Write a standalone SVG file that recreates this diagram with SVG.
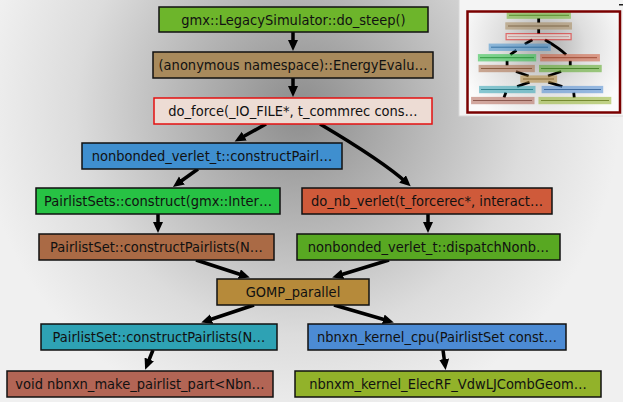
<svg xmlns="http://www.w3.org/2000/svg" width="623" height="402" viewBox="0 0 623 402">
<defs>
<radialGradient id="bg" gradientUnits="userSpaceOnUse" cx="300" cy="110" r="320">
<stop offset="0" stop-color="#8c8c8c"/>
<stop offset="0.35" stop-color="#b4b4b4"/>
<stop offset="0.7" stop-color="#dcdcdc"/>
<stop offset="1" stop-color="#f0f0f0"/>
</radialGradient>
<radialGradient id="mbg" gradientUnits="userSpaceOnUse" cx="543" cy="45" r="85">
<stop offset="0" stop-color="#a8a8a8"/>
<stop offset="0.5" stop-color="#dedede"/>
<stop offset="1" stop-color="#fbfbfb"/>
</radialGradient>
<marker id="ah" markerUnits="userSpaceOnUse" markerWidth="12" markerHeight="11" refX="6" refY="5" orient="auto">
<path d="M0,0 L11,5 L0,10 z" fill="#000"/>
</marker>
</defs>
<style>
.n rect{stroke:#111;stroke-width:1.5}
.n text{font-family:"DejaVu Sans Condensed","DejaVu Sans",sans-serif;font-stretch:condensed;font-size:14.5px;fill:#111;text-anchor:middle}
.e path{fill:none;stroke:#000;stroke-width:3.5;marker-end:url(#ah)}
.m rect{stroke-width:1.2;opacity:0.55}
.m line{stroke-width:1;opacity:0.7}
.me path{fill:none;stroke:#000;stroke-width:12}
</style>
<rect x="0" y="0" width="623" height="402" fill="url(#bg)"/>

<g id="connectors" class="e">
<path d="M293,32 L293,46"/>
<path d="M293,78 L293,92"/>
<path d="M266,124 L239,139"/>
<path d="M320,124 C347,140 385,163 407,183"/>
<path d="M198,169 L177,184"/>
<path d="M158,214 L158,228"/>
<path d="M428,214 L428,228"/>
<path d="M196,260 L245,276"/>
<path d="M389,260 L337,276"/>
<path d="M254,305 L206,321"/>
<path d="M334,305 L389,321"/>
<path d="M153,350 L147,365"/>
<path d="M443,350 L445,365"/>
</g>

<g id="n1" class="n"><rect x="159" y="7" width="269" height="25" fill="#6db52b"/><text x="293.5" y="24.5">gmx::LegacySimulator::do_steep()</text></g>
<g id="n2" class="n"><rect x="153" y="52" width="280" height="26" fill="#a88a5c"/><text x="293" y="70">(anonymous namespace)::EnergyEvalu…</text></g>
<g id="n3" class="n"><rect x="154" y="98" width="278" height="26" fill="#eddcd4" style="stroke:#e41010"/><text x="293" y="116">do_force(_IO_FILE*, t_commrec cons…</text></g>
<g id="n4" class="n"><rect x="82" y="143" width="260" height="26" fill="#3f8fcf"/><text x="212" y="161">nonbonded_verlet_t::constructPairl…</text></g>
<g id="n5" class="n"><rect x="36" y="188" width="244" height="26" fill="#27c244"/><text x="158" y="206">PairlistSets::construct(gmx::Inter…</text></g>
<g id="n6" class="n"><rect x="302" y="188" width="250" height="26" fill="#cf5a3a"/><text x="427" y="206">do_nb_verlet(t_forcerec*, interact…</text></g>
<g id="n7" class="n"><rect x="39" y="234" width="235" height="26" fill="#aa6a45"/><text x="156.5" y="252">PairlistSet::constructPairlists(N…</text></g>
<g id="n8" class="n"><rect x="297" y="234" width="263" height="26" fill="#58a822"/><text x="428.5" y="252">nonbonded_verlet_t::dispatchNonb…</text></g>
<g id="n9" class="n"><rect x="217" y="279" width="152" height="26" fill="#b68a3a"/><text x="293" y="297">GOMP_parallel</text></g>
<g id="n10" class="n"><rect x="41" y="324" width="236" height="26" fill="#2ea2b4"/><text x="159" y="342">PairlistSet::constructPairlists(N…</text></g>
<g id="n11" class="n"><rect x="308" y="324" width="258" height="26" fill="#4c8bd4"/><text x="437" y="342">nbnxn_kernel_cpu(PairlistSet const…</text></g>
<g id="n12" class="n"><rect x="7" y="371" width="266" height="26" fill="#b26555"/><text x="140" y="389">void nbnxn_make_pairlist_part&lt;Nbn…</text></g>
<g id="n13" class="n"><rect x="295" y="371" width="306" height="26" fill="#92b22a"/><text x="448" y="389">nbnxm_kernel_ElecRF_VdwLJCombGeom…</text></g>

<g id="minimap">
<rect x="459" y="-1" width="165" height="117" fill="#f4f4f4" stroke="#d8d8d8" stroke-width="1"/>
<rect x="467" y="11" width="153" height="101" fill="url(#mbg)"/>
<g transform="translate(470.1,10.7) scale(0.234)">
<g class="me">
<path d="M293,32 L293,52"/>
<path d="M293,78 L293,98"/>
<path d="M266,124 L234,143"/>
<path d="M320,124 C347,140 385,163 410,188"/>
<path d="M198,169 L172,188"/>
<path d="M158,214 L158,234"/>
<path d="M428,214 L428,234"/>
<path d="M196,260 L250,279"/>
<path d="M389,260 L333,279"/>
<path d="M254,305 L201,324"/>
<path d="M334,305 L394,324"/>
<path d="M153,350 L145,371"/>
<path d="M443,350 L445,371"/>
</g>
</g>
<g class="m">
<rect x="507.3" y="12.3" width="63" height="5.9" fill="#6db52b" stroke="#6db52b"/>
<rect x="505.9" y="22.9" width="65.5" height="6.1" fill="#a88a5c" stroke="#a88a5c"/>
<rect x="506.1" y="33.6" width="65" height="6.1" fill="#f0d8d0" stroke="#e41010"/>
<rect x="489.3" y="44.2" width="60.8" height="6.1" fill="#3f8fcf" stroke="#3f8fcf"/>
<rect x="478.5" y="54.7" width="57.1" height="6.1" fill="#27c244" stroke="#27c244"/>
<rect x="540.8" y="54.7" width="58.5" height="6.1" fill="#cf5a3a" stroke="#cf5a3a"/>
<rect x="479.2" y="65.5" width="55" height="6.1" fill="#aa6a45" stroke="#aa6a45"/>
<rect x="539.6" y="65.5" width="61.5" height="6.1" fill="#58a822" stroke="#58a822"/>
<rect x="520.9" y="76" width="35.6" height="6.1" fill="#b68a3a" stroke="#b68a3a"/>
<rect x="479.7" y="86.5" width="55.2" height="6.1" fill="#2ea2b4" stroke="#2ea2b4"/>
<rect x="542.2" y="86.5" width="60.4" height="6.1" fill="#4c8bd4" stroke="#4c8bd4"/>
<rect x="471.7" y="97.5" width="62.2" height="6.1" fill="#b26555" stroke="#b26555"/>
<rect x="539.1" y="97.5" width="71.6" height="6.1" fill="#92b22a" stroke="#92b22a"/>
<line x1="509" y1="15.3" x2="569" y2="15.3" stroke="#3f7a10"/>
<line x1="508" y1="26" x2="569" y2="26" stroke="#6a5030"/>
<line x1="508" y1="36.6" x2="569" y2="36.6" stroke="#c08080"/>
<line x1="491" y1="47.2" x2="548" y2="47.2" stroke="#1a5a90"/>
<line x1="480" y1="57.7" x2="534" y2="57.7" stroke="#108020"/>
<line x1="542" y1="57.7" x2="597" y2="57.7" stroke="#8a3018"/>
<line x1="481" y1="68.5" x2="532" y2="68.5" stroke="#704020"/>
<line x1="541" y1="68.5" x2="599" y2="68.5" stroke="#307010"/>
<line x1="523" y1="79" x2="554" y2="79" stroke="#705018"/>
<line x1="481" y1="89.5" x2="533" y2="89.5" stroke="#106a78"/>
<line x1="544" y1="89.5" x2="601" y2="89.5" stroke="#20508a"/>
<line x1="473" y1="100.5" x2="532" y2="100.5" stroke="#703a30"/>
<line x1="541" y1="100.5" x2="609" y2="100.5" stroke="#5a7010"/>
</g>
<rect x="467.5" y="11.5" width="152.5" height="101" fill="none" stroke="#7a0000" stroke-width="2.5"/>
<rect x="619" y="4" width="4" height="1.5" fill="#222"/>
</g>
</svg>
